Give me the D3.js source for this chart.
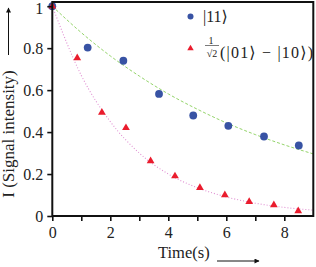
<!DOCTYPE html>
<html>
<head>
<meta charset="utf-8">
<script src="https://cdn.jsdelivr.net/npm/d3@7"></script>
<style>
  body { margin: 0; background: #fff; }
  text { font-family: "Liberation Serif", "DejaVu Serif", serif; fill: #222; }
</style>
</head>
<body>
<div id="viz"></div>
<script>
// measured points
const t11 = [0, 1.22, 2.45, 3.68, 4.86, 6.07, 7.3, 8.5];
const v11 = [1, 0.803, 0.74, 0.582, 0.479, 0.43, 0.379, 0.336];
const tSing = [0, 0.86, 1.71, 2.54, 3.39, 4.23, 5.09, 5.95, 6.79, 7.64, 8.48];
const vSing = [1, 0.753, 0.493, 0.42, 0.262, 0.19, 0.135, 0.1, 0.068, 0.052, 0.024];
// fit curves at whole seconds
const tFit = [0, 1, 2, 3, 4, 5, 6, 7, 8, 9];
const fit11 = [1, 0.874, 0.763, 0.667, 0.582, 0.509, 0.444, 0.388, 0.339, 0.296];
const fitSing = [1, 0.67, 0.45, 0.30, 0.20, 0.135, 0.091, 0.061, 0.041, 0.028];
const xMajor = [0, 2, 4, 6, 8];
const xMinor = [1, 3, 5, 7];
const yTicks = [0, 0.2, 0.4, 0.6, 0.8, 1];

const W = 316, H = 267;
const m = {l: 52.3, r: 2.7, t: 2, b: 51};

const blue = "#3853a4", red = "#ea1c2d";

const svg = d3.select('#viz').append('svg')
    .attr('width', W).attr('height', H);

const x = d3.scaleLinear().domain([0, 9]).range([m.l, W - m.r]);
const y = d3.scaleLinear().domain([0, 1.02]).range([H - m.b, m.t]);

// fits
const line = d3.line().x(d => x(d[0])).y(d => y(d[1])).curve(d3.curveMonotoneX);
svg.append('path')
    .attr('d', line(tFit.map((t, i) => [t, fit11[i]])))
    .attr('fill', 'none').attr('stroke', '#94d46a').attr('stroke-width', 1)
    .attr('stroke-dasharray', '3,2');
svg.append('path')
    .attr('d', line(tFit.map((t, i) => [t, fitSing[i]])))
    .attr('fill', 'none').attr('stroke', '#e08fd2').attr('stroke-width', 1.1)
    .attr('stroke-dasharray', '1,2');

// points
svg.selectAll('circle.p11')
    .data(t11.map((t, i) => [t, v11[i]]))
    .enter().append('circle')
    .attr('class', 'p11')
    .attr('cx', d => x(d[0])).attr('cy', d => y(d[1]))
    .attr('r', 3.9).attr('fill', blue);

const tri = d3.symbol().type(d3.symbolTriangle).size(26);
svg.selectAll('path.ps')
    .data(tSing.map((t, i) => [t, vSing[i]]))
    .enter().append('path')
    .attr('class', 'ps')
    .attr('d', tri)
    .attr('transform', d => `translate(${x(d[0])},${y(d[1])})`)
    .attr('fill', red);

// axes
svg.append('g').attr('transform', `translate(0,${H - m.b})`)
    .call(d3.axisBottom(x).tickValues(xMajor).tickSize(5).tickPadding(6).tickFormat(d3.format('d')));
svg.append('g').attr('transform', `translate(0,${H - m.b})`)
    .call(d3.axisBottom(x).tickValues(xMinor).tickSize(5).tickFormat(''));
const ya = svg.append('g').attr('transform', `translate(${m.l},0)`)
    .call(d3.axisLeft(y).tickValues(yTicks).tickSize(5).tickPadding(4)
        .tickFormat(d => d === 0 || d === 1 ? d3.format('d')(d) : d3.format('.1f')(d)));
svg.selectAll('.tick line').attr('stroke', '#111').attr('stroke-width', 1.6);
svg.selectAll('.tick text').style('font-family', '"Liberation Serif", serif').style('font-size', '16px').attr('fill', '#222');
svg.selectAll('.domain').remove();
// top label sits at the edge, nudge it in a bit
ya.selectAll('.tick text').filter(d => d === 1).attr('dy', '0.45em');

// frame
svg.append('rect')
    .attr('x', x(0)).attr('y', y(1.02))
    .attr('width', x(9) - x(0)).attr('height', y(0) - y(1.02))
    .attr('fill', 'none').attr('stroke', '#111').attr('stroke-width', 2);

// axis labels with arrows
const defs = svg.append('defs');
defs.append('marker').attr('id', 'ah')
    .attr('viewBox', '0 0 10 10').attr('refX', 9).attr('refY', 5)
    .attr('markerWidth', 7).attr('markerHeight', 5).attr('markerUnits', 'userSpaceOnUse')
    .attr('orient', 'auto')
    .append('path').attr('d', 'M0,0 L10,5 L0,10 Z').attr('fill', '#111');

svg.append('text')
    .attr('transform', 'translate(14,134) rotate(-90)')
    .attr('text-anchor', 'middle')
    .style('font-size', '17px')
    .text('I (Signal intensity)');
svg.append('line')
    .attr('x1', 8.5).attr('x2', 8.5).attr('y1', 55).attr('y2', 8)
    .attr('stroke', '#111').attr('stroke-width', 1)
    .attr('marker-end', 'url(#ah)');

svg.append('text')
    .attr('x', 158).attr('y', 258)
    .style('font-size', '16.5px')
    .text('Time(s)');
svg.append('line')
    .attr('x1', 217).attr('x2', 259).attr('y1', 261).attr('y2', 261)
    .attr('stroke', '#111').attr('stroke-width', 1)
    .attr('marker-end', 'url(#ah)');

// legend
svg.append('circle').attr('cx', 190.5).attr('cy', 16.5).attr('r', 3).attr('fill', blue);
svg.append('text').attr('x', 203).attr('y', 21.5).style('font-size', '16px').text('|11⟩');

svg.append('path').attr('d', d3.symbol().type(d3.symbolTriangle).size(18))
    .attr('transform', 'translate(190.5,48.5)').attr('fill', red);
svg.append('text').attr('x', 211).attr('y', 43.5).attr('text-anchor', 'middle')
    .style('font-size', '10px').text('1');
svg.append('line').attr('x1', 205).attr('x2', 219).attr('y1', 45.5).attr('y2', 45.5)
    .attr('stroke', '#222').attr('stroke-width', 0.6);
svg.append('text').attr('x', 212).attr('y', 56.5).attr('text-anchor', 'middle')
    .style('font-size', '10px').text('√2');
svg.append('text').attr('x', 220).attr('y', 57.5).style('font-size', '16px')
    .attr('textLength', 93).text('(|01⟩ − |10⟩)');
</script>
</body>
</html>
